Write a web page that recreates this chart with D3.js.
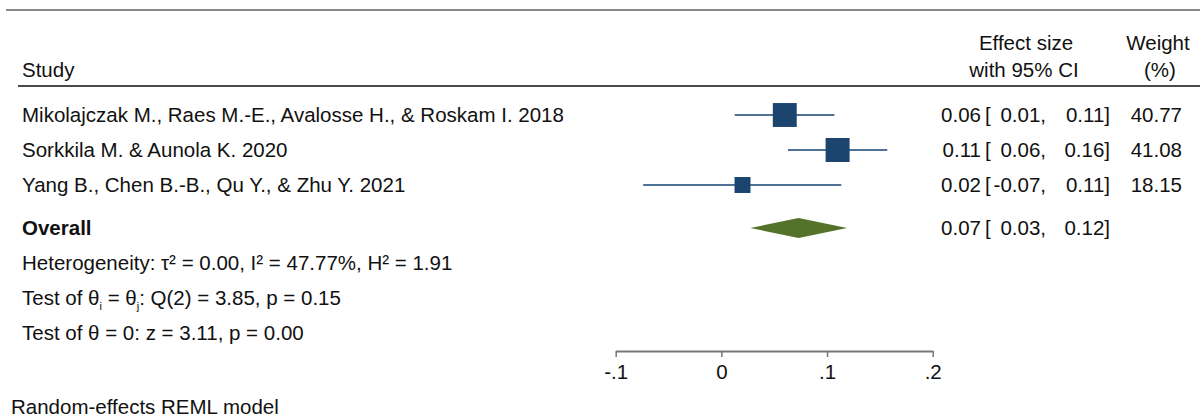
<!DOCTYPE html>
<html><head><meta charset="utf-8">
<script src="https://cdn.jsdelivr.net/npm/d3@7"></script>
<style>
body{margin:0;background:#fff;}
svg text{font-family:"Liberation Sans",Arial,Helvetica,sans-serif;fill:#111;}
</style></head>
<body><svg id="c" width="1200" height="420"></svg>
<script>
const studies = ["Mikolajczak M., Raes M.-E., Avalosse H., & Roskam I. 2018","Sorkkila M. & Aunola K. 2020","Yang B., Chen B.-B., Qu Y., & Zhu Y. 2021"];
const effect = [0.060, 0.110, 0.020];
const lower = [0.0126, 0.063, -0.074];
const upper = [0.107, 0.157, 0.1135];
const weight = [40.77, 41.08, 18.15];
const overall = {label:"Overall", es:0.0731, lo:0.0274, hi:0.119};
const axisTicks = [-0.1, 0, 0.1, 0.2];
const tickLabels = ["-.1","0",".1",".2"];

const svg = d3.select("#c");
const FS = 20.5;
const x = d3.scaleLinear().domain([-0.1,0.2]).range([615.7,932.7]);
const rowY = d3.scaleLinear().domain([0,1]).range([115,150]);
const size = d3.scaleSqrt().domain([0,41.08]).range([0,24]);
const f2 = v => d3.format(".2f")(v).replace("\u2212","-");
const BL = 7; // baseline offset from row centre

// lines
svg.append("line").attr("x1",6).attr("x2",1200).attr("y1",10).attr("y2",10).attr("stroke","#8a8a8a").attr("stroke-width",2);
svg.append("line").attr("x1",18).attr("x2",1200).attr("y1",86).attr("y2",86).attr("stroke","#4a4a4a").attr("stroke-width",2);

// headers
const hdr = (t,xx,yy,anc)=>svg.append("text").attr("x",xx).attr("y",yy).attr("text-anchor",anc).attr("font-size",FS).text(t);
hdr("Study",22,77,"start");
hdr("Effect size",1026,50,"middle");
hdr("with 95% CI",1024,77,"middle");
hdr("Weight",1158,50,"middle");
hdr("(%)",1160,77,"middle");

const data = studies.map((s,i)=>({s,es:effect[i],lo:lower[i],hi:upper[i],w:weight[i],y:rowY(i)}));

const g = svg.append("g");
g.selectAll("line.ci").data(data).join("line").attr("class","ci")
 .attr("x1",d=>x(d.lo)).attr("x2",d=>x(d.hi)).attr("y1",d=>d.y).attr("y2",d=>d.y)
 .attr("stroke","#4f7396").attr("stroke-width",2);
g.selectAll("rect.sq").data(data).join("rect").attr("class","sq")
 .attr("x",d=>x(d.es)-size(d.w)/2).attr("y",d=>d.y-size(d.w)/2)
 .attr("width",d=>size(d.w)).attr("height",d=>size(d.w)).attr("fill","#1b446f");

g.selectAll("text.st").data(data).join("text").attr("class","st")
 .attr("x",22).attr("y",d=>d.y+BL).attr("font-size",FS).text(d=>d.s);

const rcol = (sel, rows) => {
  sel.selectAll("text.e").data(rows).join("text").attr("class","e").attr("x",981).attr("y",d=>d.y+BL).attr("text-anchor","end").attr("font-size",FS).text(d=>f2(d.es));
  sel.selectAll("text.b").data(rows).join("text").attr("class","b").attr("x",985).attr("y",d=>d.y+BL).attr("font-size",FS).text("[");
  sel.selectAll("text.l").data(rows).join("text").attr("class","l").attr("x",1046).attr("y",d=>d.y+BL).attr("text-anchor","end").attr("font-size",FS).text(d=>f2(d.lo)+",");
  sel.selectAll("text.u").data(rows).join("text").attr("class","u").attr("x",1110).attr("y",d=>d.y+BL).attr("text-anchor","end").attr("font-size",FS).text(d=>f2(d.hi)+"]");
};
rcol(svg.append("g"), data);
svg.append("g").selectAll("text").data(data).join("text").attr("x",1182).attr("y",d=>d.y+BL).attr("text-anchor","end").attr("font-size",FS).text(d=>f2(d.w));

// overall
const oy = 228;
svg.append("text").attr("x",22).attr("y",oy+BL).attr("font-size",FS).attr("font-weight","bold").text(overall.label);
svg.append("path").attr("d",`M${x(overall.lo)},${oy} L${x(overall.es)},${oy-10} L${x(overall.hi)},${oy} L${x(overall.es)},${oy+10} Z`).attr("fill","#55722b");
rcol(svg.append("g"), [{es:overall.es,lo:overall.lo,hi:overall.hi,y:oy}]);

// heterogeneity lines
svg.append("text").attr("x",22).attr("y",263+BL).attr("font-size",FS).text("Heterogeneity: τ² = 0.00, I² = 47.77%, H² = 1.91");

const t2 = svg.append("text").attr("x",22).attr("y",298+BL).attr("font-size",FS);
t2.append("tspan").text("Test of θ");
t2.append("tspan").attr("font-size",11).attr("dy",5).text("i");
t2.append("tspan").attr("dy",-5).text(" = θ");
t2.append("tspan").attr("font-size",11).attr("dy",5).text("j");
t2.append("tspan").attr("dy",-5).text(": Q(2) = 3.85, p = 0.15");

svg.append("text").attr("x",22).attr("y",333+BL).attr("font-size",FS).text("Test of θ = 0: z = 3.11, p = 0.00");

// axis
const ax = svg.append("g").attr("transform","translate(0,351)")
  .call(d3.axisBottom(x).tickValues(axisTicks).tickFormat((d,i)=>tickLabels[i]).tickSize(6).tickSizeOuter(0));
ax.select(".domain").attr("stroke","#777").attr("stroke-width",2);
ax.selectAll(".tick line").attr("stroke","#777").attr("stroke-width",1.5);
ax.selectAll(".tick text").attr("font-size",FS).attr("font-family","Liberation Sans, Arial, sans-serif").attr("fill","#111").attr("dy","0.95em");

svg.append("text").attr("x",11).attr("y",414).attr("font-size",FS).text("Random-effects REML model");
</script></body></html>
